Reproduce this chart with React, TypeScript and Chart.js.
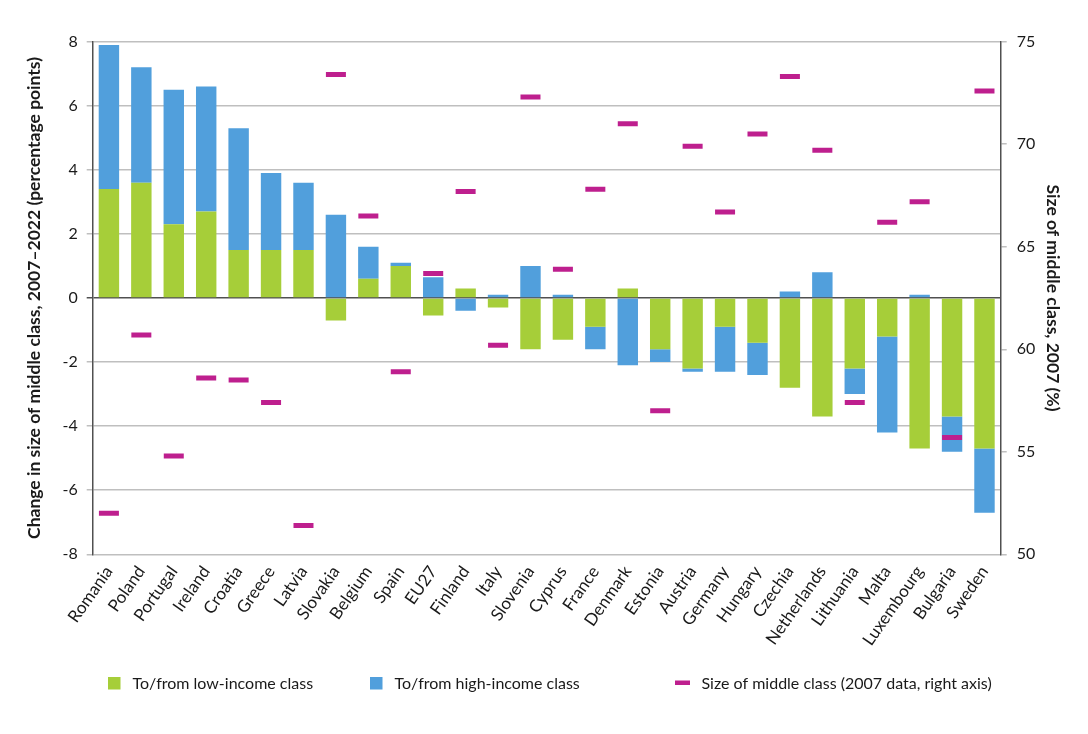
import React, { useEffect, useRef } from 'react';
import { Chart, registerables } from 'chart.js';

Chart.register(...registerables);

const countries = ['Romania', 'Poland', 'Portugal', 'Ireland', 'Croatia', 'Greece', 'Latvia', 'Slovakia', 'Belgium', 'Spain', 'EU27', 'Finland', 'Italy', 'Slovenia', 'Cyprus', 'France', 'Denmark', 'Estonia', 'Austria', 'Germany', 'Hungary', 'Czechia', 'Netherlands', 'Lithuania', 'Malta', 'Luxembourg', 'Bulgaria', 'Sweden'];

const lowIncome = [3.4, 3.6, 2.3, 2.7, 1.5, 1.5, 1.5, -0.7, 0.6, 1.0, -0.55, 0.3, -0.3, -1.6, -1.3, -0.9, 0.3, -1.6, -2.2, -0.9, -1.4, -2.8, -3.7, -2.2, -1.2, -4.7, -3.7, -4.7];

const highIncome = [4.5, 3.6, 4.2, 3.9, 3.8, 2.4, 2.1, 2.6, 1.0, 0.1, 0.65, -0.4, 0.1, 1.0, 0.1, -0.7, -2.1, -0.4, -0.1, -1.4, -1.0, 0.2, 0.8, -0.8, -3.0, 0.1, -1.1, -2.0];

const middleClass2007 = [52.0, 60.7, 54.8, 58.6, 58.5, 57.4, 51.4, 73.4, 66.5, 58.9, 63.7, 67.7, 60.2, 72.3, 63.9, 67.8, 71.0, 57.0, 69.9, 66.7, 70.5, 73.3, 69.7, 57.4, 66.2, 67.2, 55.7, 72.6];

const seriesLabels = ['To/from low-income class', 'To/from high-income class', 'Size of middle class (2007 data, right axis)'];

const leftTitle = 'Change in size of middle class, 2007–2022 (percentage points)';
const rightTitle = 'Size of middle class, 2007 (%)';

const GREEN = '#A6CE39';
const BLUE = '#519FDC';
const MAGENTA = '#BE1F8E';
const FONT = 'Lato';

const legendPlugin = {
  id: 'customLegend',
  afterDraw(chart: any) {
    const ctx = chart.ctx;
    ctx.save();
    ctx.font = `16px ${FONT}`;
    ctx.fillStyle = '#1a1a1a';
    ctx.textBaseline = 'middle';
    const y = 675;
    const xs = [100, 362, 667];
    const colors = [GREEN, BLUE, MAGENTA];
    xs.forEach((x, i) => {
      ctx.fillStyle = colors[i];
      if (i < 2) {
        ctx.fillRect(x, y - 6, 12.5, 12.5);
      } else {
        ctx.fillRect(x, y - 2.5, 15, 4.5);
      }
      ctx.fillStyle = '#1a1a1a';
      ctx.fillText(seriesLabels[i], x + (i < 2 ? 24.5 : 26.5), y + 1);
    });
    ctx.restore();
  },
};

export default function App() {
  const ref = useRef<HTMLCanvasElement>(null);

  useEffect(() => {
    if (!ref.current) return;
    const chart = new Chart(ref.current, {
      type: 'bar',
      data: {
        labels: countries,
        datasets: [
          {
            type: 'bar',
            label: seriesLabels[0],
            data: lowIncome,
            backgroundColor: GREEN,
            yAxisID: 'y',
            order: 1,
            barPercentage: 0.63,
            categoryPercentage: 1,
          },
          {
            type: 'bar',
            label: seriesLabels[1],
            data: highIncome,
            backgroundColor: BLUE,
            yAxisID: 'y',
            order: 1,
            barPercentage: 0.63,
            categoryPercentage: 1,
          },
          {
            type: 'line',
            label: seriesLabels[2],
            data: middleClass2007,
            yAxisID: 'y1',
            showLine: false,
            pointStyle: 'line',
            pointRadius: 10,
            pointHoverRadius: 10,
            pointBorderWidth: 5,
            borderColor: MAGENTA,
            backgroundColor: MAGENTA,
            order: 0,
          } as any,
        ],
      },
      options: {
        animation: false,
        responsive: true,
        maintainAspectRatio: false,
        layout: { padding: { top: 33.7, bottom: 0, left: 0, right: 0 } },
        plugins: {
          legend: { display: false },
          tooltip: { enabled: false },
        },
        scales: {
          x: {
            stacked: true,
            grid: { display: false },
            border: { display: false },
            ticks: {
              autoSkip: false,
              minRotation: 55,
              maxRotation: 55,
              padding: 0,
              color: '#1a1a1a',
              font: { family: FONT, size: 17 },
            },
            afterFit: (s: any) => { s.height = 171.7; },
          },
          y: {
            stacked: true,
            position: 'left',
            min: -8,
            max: 8,
            ticks: {
              stepSize: 2,
              padding: 9,
              color: '#1a1a1a',
              font: { family: FONT, size: 16 },
            },
            grid: {
              color: (c: any) => (c.tick && c.tick.value === 0 ? '#505050' : '#BFBFBF'),
              lineWidth: 1.5,
              tickLength: 6,
            },
            border: { display: true, color: '#505050', width: 1.5 },
            title: {
              display: true,
              text: leftTitle,
              color: '#1a1a1a',
              font: { family: FONT, size: 17.5, weight: 'bold' },
              padding: { top: 16, bottom: 0 },
            },
            afterFit: (s: any) => { s.width = 84.7; },
          },
          y1: {
            position: 'right',
            min: 50,
            max: 75,
            ticks: {
              stepSize: 5,
              padding: 10,
              color: '#1a1a1a',
              font: { family: FONT, size: 16 },
            },
            grid: {
              drawOnChartArea: false,
              color: '#BFBFBF',
              lineWidth: 1.5,
              tickLength: 6,
            },
            border: { display: true, color: '#505050', width: 1.5 },
            title: {
              display: true,
              text: rightTitle,
              color: '#1a1a1a',
              font: { family: FONT, size: 17.5, weight: 'bold' },
              padding: { top: 17, bottom: 0 },
            },
            afterFit: (s: any) => { s.width = 79.3; },
          },
        },
      },
      plugins: [legendPlugin],
    } as any);
    return () => chart.destroy();
  }, []);

  return (
    <div style={{ width: 1072, height: 718, position: 'relative' }}>
      <canvas ref={ref} />
    </div>
  );
}
